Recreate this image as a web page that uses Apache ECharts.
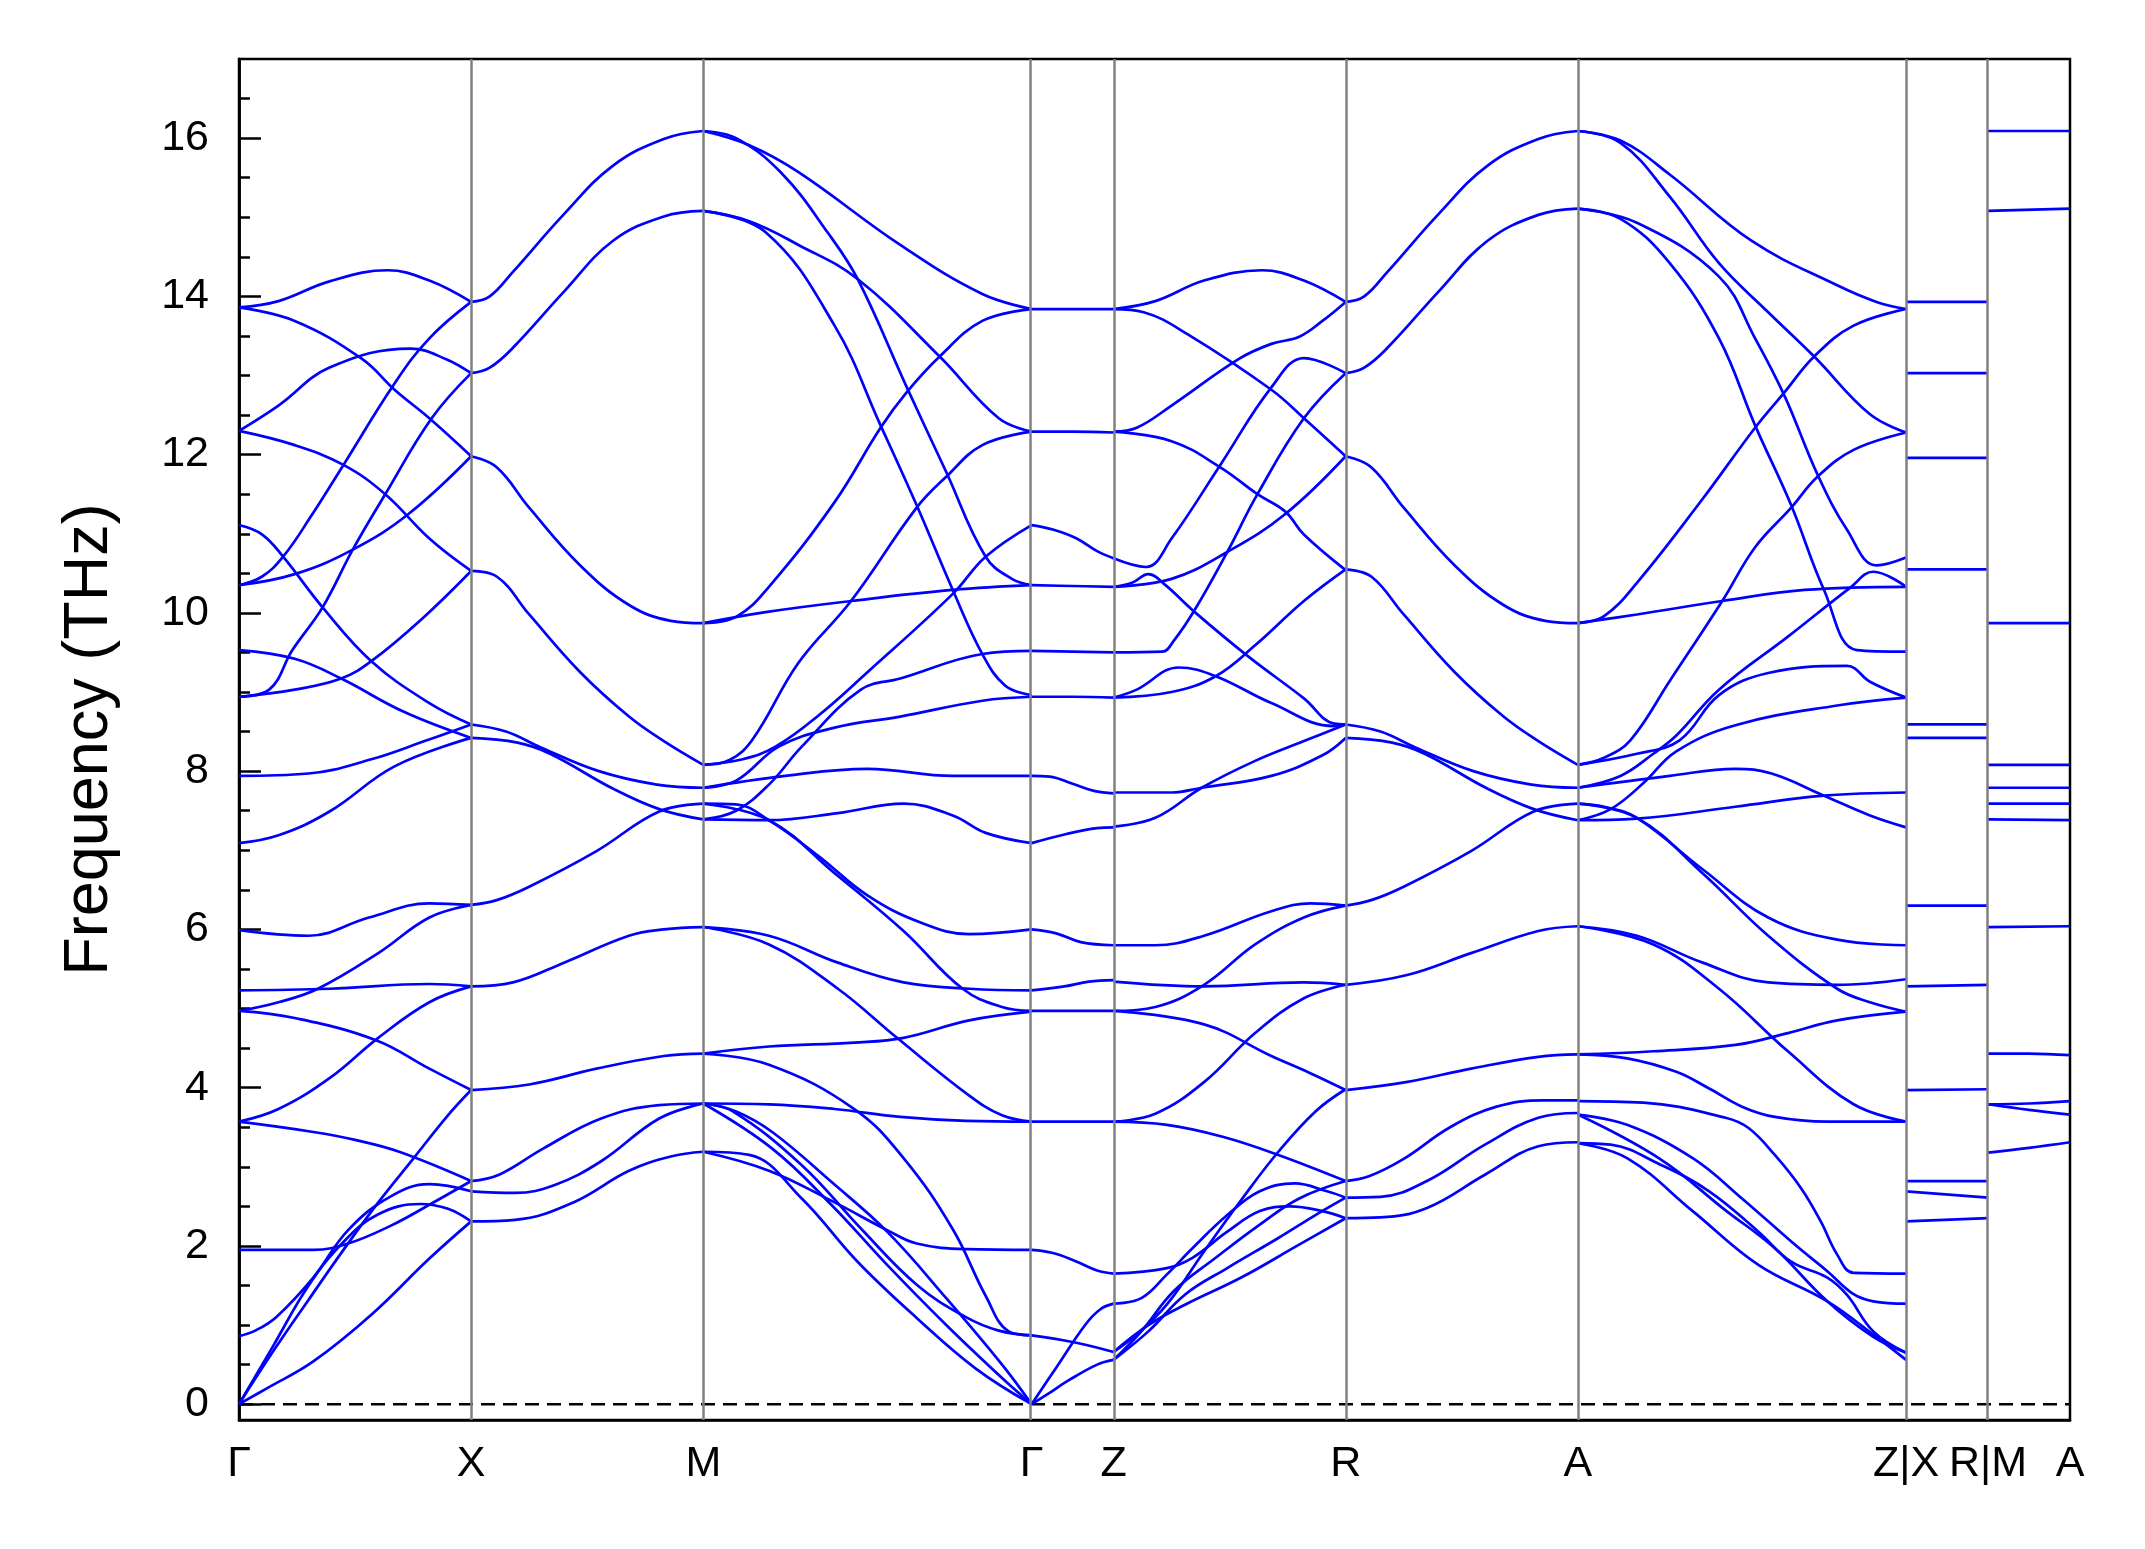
<!DOCTYPE html>
<html>
<head>
<meta charset="utf-8">
<script src="https://cdn.jsdelivr.net/npm/echarts@6/dist/echarts.min.js"></script>
<style>
  html, body { margin: 0; padding: 0; background: #fff; }
  #chart { width: 2145px; height: 1549px; }
</style>
</head>
<body>
<div id="chart"></div>
<script>
// high-symmetry path: segment lengths (reciprocal distance) and labels
const segLengths = [1, 1, 1.4142, 0.353, 1, 1, 1.4142, 0.353, 0.353];
const tickLabels = ['Γ', 'X', 'M', 'Γ', 'Z', 'R', 'A', 'Z|X', 'R|M', 'A'];
const yMajorTicks = [0, 2, 4, 6, 8, 10, 12, 14, 16];

// bands per segment: [fraction along segment, frequency THz]
const bandsGX = [
  [[0,13.86],[.17,13.94],[.39,14.19],[.64,14.33],[.82,14.2],[1,13.93]],
  [[0,13.86],[.24,13.69],[.53,13.21],[.67,12.82],[.82,12.46],[1,11.98]],
  [[0,12.3],[.17,12.62],[.39,13.1],[.74,13.34],[.89,13.21],[1,13.03]],
  [[0,12.3],[.24,12.12],[.45,11.87],[.63,11.5],[.82,10.94],[1,10.53]],
  [[0,11.11],[.1,10.99],[.19,10.71],[.36,10.07],[.57,9.39],[.82,8.86],[1,8.59]],
  [[0,10.35],[.1,10.46],[.19,10.71],[.31,11.22],[.45,11.87],[.67,12.9],[.82,13.47],[1,13.93]],
  [[0,10.35],[.24,10.49],[.49,10.8],[.73,11.25],[1,11.98]],
  [[0,9.53],[.24,9.42],[.44,9.17],[.71,8.75],[1,8.42]],
  [[0,8.94],[.24,9.03],[.44,9.17],[.57,9.39],[.79,9.93],[1,10.53]],
  [[0,8.94],[.13,9.03],[.23,9.53],[.36,10.07],[.49,10.8],[.63,11.5],[.83,12.46],[1,13.03]],
  [[0,7.94],[.3,7.97],[.57,8.15],[.8,8.38],[1,8.59]],
  [[0,7.09],[.17,7.19],[.39,7.49],[.67,8.06],[1,8.42]],
  [[0,5.99],[.3,5.92],[.56,6.15],[.82,6.33],[1,6.31]],
  [[0,5.23],[.39,5.25],[.82,5.31],[1,5.28]],
  [[0,4.97],[.17,5.08],[.34,5.25],[.6,5.7],[.82,6.15],[1,6.31]],
  [[0,4.97],[.24,4.88],[.59,4.6],[.82,4.24],[1,3.97]],
  [[0,3.57],[.17,3.73],[.39,4.12],[.6,4.63],[.82,5.08],[1,5.28]],
  [[0,3.57],[.32,3.44],[.5,3.34],[.69,3.19],[1,2.82]],
  [[0,1.95],[.32,1.95],[.47,2.03],[.65,2.25],[.82,2.52],[1,2.82]],
  [[0,0.86],[.07,0.93],[.16,1.1],[.32,1.6],[.47,2.2],[.65,2.62],[.82,2.78],[1,2.69]],
  [[0,0],[.15,0.68],[.3,1.32],[.45,1.95],[.6,2.55],[.75,3.1],[.9,3.65],[1,3.97]],
  [[0,0],[.15,0.75],[.3,1.5],[.45,2.05],[.6,2.4],[.78,2.53],[.9,2.47],[1,2.31]],
  [[0,0],[.12,0.2],[.32,0.54],[.57,1.13],[.82,1.84],[1,2.31]]
];

const bandsXM = [
  [[0,13.93],[.08,14.0],[.18,14.31],[.4,15.04],[.61,15.65],[.83,15.99],[1,16.09]],
  [[0,13.03],[.08,13.1],[.18,13.35],[.4,14.06],[.61,14.7],[.83,15.01],[1,15.08]],
  [[0,11.98],[.11,11.84],[.25,11.33],[.47,10.6],[.68,10.1],[.86,9.9],[1,9.87]],
  [[0,10.53],[.11,10.46],[.25,9.98],[.47,9.25],[.68,8.69],[.83,8.38],[1,8.08]],
  [[0,8.59],[.15,8.5],[.3,8.3],[.55,8.0],[.8,7.83],[1,7.79]],
  [[0,8.42],[.2,8.36],[.34,8.22],[.61,7.78],[.81,7.52],[1,7.39]],
  [[0,6.31],[.11,6.37],[.25,6.54],[.54,6.99],[.81,7.49],[1,7.59]],
  [[0,5.28],[.18,5.33],[.4,5.58],[.68,5.92],[.83,6.0],[1,6.03]],
  [[0,3.97],[.25,4.04],[.54,4.24],[.83,4.4],[1,4.43]],
  [[0,2.82],[.12,2.9],[.31,3.23],[.56,3.61],[.81,3.78],[1,3.8]],
  [[0,2.69],[.19,2.67],[.36,2.77],[.56,3.07],[.81,3.61],[1,3.8]],
  [[0,2.31],[.19,2.33],[.44,2.55],[.68,2.95],[.86,3.13],[1,3.19]]
];

const bandsMG = [
  [[0,16.09],[.14,15.91],[.29,15.57],[.6,14.65],[.85,14.03],[1,13.84]],
  [[0,16.09],[.1,16.0],[.24,15.55],[.38,14.8],[.47,14.22],[.62,12.85],[.74,11.78],[.86,10.71],[.94,10.43],[1,10.35]],
  [[0,15.08],[.14,14.95],[.29,14.65],[.47,14.22],[.72,13.24],[.9,12.46],[1,12.29]],
  [[0,15.08],[.19,14.81],[.4,13.63],[.54,12.37],[.65,11.36],[.76,10.29],[.85,9.48],[.92,9.08],[1,8.96]],
  [[0,9.87],[.1,9.95],[.2,10.33],[.4,11.4],[.54,12.34],[.62,12.79],[.72,13.24],[.85,13.69],[1,13.84]],
  [[0,9.87],[.19,10.01],[.45,10.15],[.76,10.29],[1,10.35]],
  [[0,8.08],[.08,8.14],[.15,8.4],[.29,9.37],[.45,10.15],[.65,11.33],[.74,11.72],[.85,12.12],[1,12.29]],
  [[0,8.08],[.12,8.15],[.22,8.31],[.35,8.7],[.5,9.25],[.76,10.24],[.86,10.71],[1,11.11]],
  [[0,7.39],[.1,7.5],[.2,7.83],[.3,8.31],[.48,9.03],[.6,9.17],[.85,9.48],[1,9.52]],
  [[0,7.79],[.1,7.88],[.23,8.31],[.4,8.55],[.6,8.69],[.85,8.89],[1,8.94]],
  [[0,7.79],[.25,7.94],[.5,8.03],[.76,7.94],[1,7.94]],
  [[0,7.39],[.2,7.38],[.41,7.47],[.61,7.59],[.76,7.44],[.86,7.22],[1,7.09]],
  [[0,7.59],[.1,7.58],[.2,7.38],[.35,6.93],[.5,6.43],[.66,6.09],[.81,5.94],[1,6.0]],
  [[0,7.59],[.2,7.38],[.4,6.71],[.61,5.98],[.79,5.25],[.91,5.02],[1,4.97]],
  [[0,6.03],[.2,5.92],[.41,5.58],[.61,5.33],[.81,5.25],[1,5.23]],
  [[0,6.03],[.2,5.81],[.41,5.25],[.59,4.63],[.81,3.9],[.91,3.65],[1,3.57]],
  [[0,4.43],[.2,4.52],[.46,4.57],[.61,4.63],[.81,4.85],[1,4.96]],
  [[0,4.43],[.2,4.29],[.46,3.73],[.61,3.11],[.76,2.21],[.86,1.37],[.93,0.92],[1,0.87]],
  [[0,3.8],[.2,3.79],[.4,3.73],[.6,3.63],[.8,3.58],[1,3.57]],
  [[0,3.8],[.09,3.7],[.3,3.02],[.48,2.22],[.65,1.51],[.8,1.1],[.9,0.93],[1,0.87]],
  [[0,3.8],[.21,3.23],[.39,2.52],[.56,1.76],[.74,1.0],[.91,0.33],[1,0]],
  [[0,3.8],[.1,3.7],[.21,3.44],[.39,2.81],[.56,2.18],[.74,1.34],[.91,0.5],[1,0]],
  [[0,3.19],[.14,3.15],[.3,2.6],[.47,1.8],[.65,1.09],[.83,0.45],[1,0]],
  [[0,3.19],[.2,2.95],[.4,2.55],[.56,2.2],[.65,2.03],[.8,1.96],[1,1.95]]
];

const bandsGZ = [
  [[0,13.84],[.5,13.84],[1,13.84]],
  [[0,12.29],[.5,12.29],[1,12.28]],
  [[0,11.11],[.27,11.05],[.55,10.94],[.8,10.78],[1,10.69]],
  [[0,10.35],[.5,10.34],[1,10.33]],
  [[0,9.52],[.5,9.51],[1,9.5]],
  [[0,8.94],[.5,8.94],[1,8.93]],
  [[0,7.94],[.22,7.93],[.5,7.84],[.76,7.75],[1,7.72]],
  [[0,7.09],[.4,7.2],[.8,7.28],[1,7.29]],
  [[0,6.0],[.3,5.95],[.6,5.84],[1,5.8]],
  [[0,5.23],[.4,5.28],[.7,5.34],[1,5.36]],
  [[0,4.97],[.5,4.97],[1,4.97]],
  [[0,3.57],[.5,3.57],[1,3.57]],
  [[0,1.95],[.26,1.91],[.53,1.81],[.8,1.69],[1,1.65]],
  [[0,0.87],[.53,0.78],[1,0.66]],
  [[0,0],[.3,0.46],[.66,1.01],[.84,1.2],[1,1.27]],
  [[0,0],[.2,0.13],[.45,0.3],[.8,0.5],[1,0.56]]
];

const bandsZR = [
  [[0,13.84],[.18,13.94],[.39,14.2],[.64,14.33],[.82,14.2],[1,13.93]],
  [[0,13.84],[.13,13.8],[.32,13.52],[.68,12.82],[.82,12.46],[1,11.98]],
  [[0,12.29],[.1,12.34],[.25,12.62],[.54,13.21],[.68,13.4],[.8,13.49],[.9,13.69],[1,13.93]],
  [[0,12.29],[.25,12.17],[.46,11.84],[.62,11.5],[.74,11.28],[.82,10.99],[1,10.54]],
  [[0,10.33],[.25,10.43],[.49,10.77],[.74,11.25],[1,11.98]],
  [[0,10.69],[.14,10.58],[.25,10.94],[.46,11.87],[.68,12.85],[.82,13.22],[1,13.03]],
  [[0,10.33],[.08,10.38],[.15,10.49],[.22,10.36],[.35,10.01],[.58,9.45],[.82,8.92],[.95,8.6],[1,8.59]],
  [[0,9.5],[.21,9.51],[.26,9.65],[.35,10.04],[.49,10.77],[.62,11.5],[.82,12.46],[1,13.03]],
  [[0,8.93],[.1,9.03],[.28,9.31],[.44,9.2],[.68,8.86],[.95,8.57],[1,8.59]],
  [[0,8.93],[.25,9.0],[.44,9.2],[.61,9.59],[.82,10.15],[1,10.55]],
  [[0,7.3],[.18,7.41],[.38,7.79],[.61,8.13],[.82,8.38],[1,8.59]],
  [[0,7.73],[.25,7.73],[.38,7.79],[.68,7.94],[.9,8.2],[1,8.42]],
  [[0,5.8],[.18,5.8],[.39,5.92],[.68,6.23],[.85,6.33],[1,6.3]],
  [[0,5.34],[.39,5.28],[.82,5.33],[1,5.3]],
  [[0,4.97],[.18,5.02],[.39,5.3],[.61,5.81],[.82,6.15],[1,6.3]],
  [[0,4.97],[.39,4.8],[.68,4.4],[.85,4.18],[1,3.97]],
  [[0,3.57],[.18,3.67],[.39,4.07],[.61,4.69],[.82,5.13],[1,5.3]],
  [[0,3.57],[.23,3.53],[.47,3.38],[.71,3.15],[1,2.82]],
  [[0,0.66],[.1,0.88],[.23,1.26],[.39,1.93],[.55,2.58],[.71,3.19],[.87,3.7],[1,3.98]],
  [[0,1.27],[.12,1.34],[.23,1.64],[.34,1.97],[.49,2.39],[.63,2.69],[.78,2.79],[.92,2.69],[1,2.61]],
  [[0,1.65],[.23,1.72],[.34,1.85],[.49,2.18],[.63,2.44],[.76,2.5],[.9,2.44],[1,2.35]],
  [[0,0.56],[.12,0.92],[.26,1.43],[.44,1.85],[.63,2.27],[.8,2.6],[1,2.82]],
  [[0,0.56],[.15,0.92],[.31,1.39],[.49,1.72],[.71,2.1],[.87,2.39],[1,2.61]],
  [[0,0.66],[.15,1.0],[.31,1.26],[.55,1.6],[.79,2.0],[1,2.35]]
];

const bandsRA = [
  [[0,13.93],[.08,14.0],[.18,14.31],[.4,15.04],[.61,15.65],[.83,15.99],[1,16.09]],
  [[0,13.03],[.08,13.1],[.18,13.35],[.4,14.06],[.61,14.7],[.83,15.03],[1,15.11]],
  [[0,11.98],[.11,11.84],[.25,11.33],[.47,10.6],[.68,10.1],[.86,9.9],[1,9.87]],
  [[0,10.55],[.11,10.46],[.25,9.98],[.47,9.25],[.68,8.69],[.83,8.38],[1,8.08]],
  [[0,8.59],[.15,8.5],[.3,8.3],[.55,8.0],[.8,7.83],[1,7.79]],
  [[0,8.42],[.2,8.36],[.34,8.22],[.61,7.78],[.81,7.52],[1,7.38]],
  [[0,6.3],[.11,6.37],[.25,6.54],[.54,6.99],[.81,7.49],[1,7.59]],
  [[0,5.3],[.26,5.42],[.54,5.7],[.83,5.98],[1,6.04]],
  [[0,3.97],[.26,4.07],[.54,4.24],[.83,4.39],[1,4.42]],
  [[0,2.82],[.1,2.88],[.25,3.1],[.45,3.5],[.65,3.76],[.85,3.84],[1,3.84]],
  [[0,2.61],[.15,2.62],[.35,2.82],[.6,3.28],[.83,3.62],[1,3.68]],
  [[0,2.35],[.15,2.36],[.35,2.48],[.6,2.9],[.83,3.26],[1,3.31]]
];

const bandsAZ = [
  [[0,16.09],[.13,15.97],[.28,15.54],[.53,14.7],[.79,14.14],[.91,13.93],[1,13.84]],
  [[0,16.09],[.13,15.94],[.28,15.26],[.43,14.42],[.58,13.8],[.72,13.24],[.89,12.51],[1,12.28]],
  [[0,15.11],[.18,14.93],[.43,14.25],[.54,13.47],[.63,12.74],[.73,11.75],[.82,11.05],[.91,10.6],[1,10.7]],
  [[0,15.11],[.13,14.98],[.28,14.42],[.43,13.47],[.54,12.37],[.65,11.36],[.75,10.29],[.85,9.53],[1,9.51]],
  [[0,9.87],[.08,9.96],[.18,10.38],[.38,11.44],[.54,12.34],[.63,12.79],[.72,13.24],[.84,13.63],[1,13.84]],
  [[0,9.87],[.18,9.98],[.44,10.15],[.69,10.29],[1,10.33]],
  [[0,8.08],[.08,8.17],[.16,8.39],[.28,9.14],[.44,10.15],[.54,10.83],[.65,11.33],[.73,11.72],[.84,12.06],[1,12.28]],
  [[0,7.79],[.13,7.94],[.23,8.22],[.3,8.45],[.43,9.03],[.64,9.7],[.83,10.32],[.9,10.52],[1,10.33]],
  [[0,8.08],[.18,8.22],[.31,8.39],[.43,8.96],[.58,9.24],[.82,9.33],[.89,9.13],[1,8.93]],
  [[0,7.38],[.1,7.52],[.2,7.85],[.3,8.25],[.48,8.58],[.79,8.83],[1,8.93]],
  [[0,7.79],[.28,7.94],[.48,8.03],[.59,7.97],[.75,7.69],[.89,7.44],[1,7.29]],
  [[0,7.38],[.18,7.4],[.48,7.55],[.75,7.69],[1,7.73]],
  [[0,7.59],[.08,7.55],[.18,7.41],[.38,6.76],[.58,6.15],[.79,5.87],[1,5.8]],
  [[0,7.59],[.18,7.41],[.38,6.71],[.58,5.92],[.79,5.25],[.89,5.08],[1,4.96]],
  [[0,6.04],[.18,5.92],[.38,5.58],[.58,5.33],[.79,5.3],[1,5.37]],
  [[0,6.04],[.23,5.81],[.43,5.25],[.64,4.46],[.84,3.79],[1,3.57]],
  [[0,4.42],[.23,4.46],[.48,4.54],[.64,4.69],[.79,4.85],[1,4.96]],
  [[0,4.42],[.15,4.37],[.3,4.2],[.4,3.99],[.5,3.76],[.6,3.63],[.76,3.57],[1,3.57]],
  [[0,3.83],[.2,3.81],[.45,3.62],[.52,3.49],[.6,3.15],[.68,2.73],[.74,2.31],[.79,1.89],[.84,1.66],[1,1.65]],
  [[0,3.66],[.15,3.53],[.35,3.11],[.5,2.6],[.66,2.02],[.76,1.68],[.84,1.39],[.9,1.3],[1,1.27]],
  [[0,3.66],[.25,3.1],[.45,2.45],[.6,1.97],[.76,1.3],[.9,0.85],[1,0.65]],
  [[0,3.3],[.1,3.28],[.25,3.03],[.4,2.69],[.55,2.18],[.65,1.8],[.76,1.6],[.82,1.38],[.9,0.92],[1,0.65]],
  [[0,3.3],[.15,3.11],[.35,2.44],[.55,1.76],[.76,1.3],[.9,0.88],[1,0.56]]
];

const bandsXR = [
  [[0,13.93],[1,13.93]], [[0,13.03],[1,13.03]], [[0,11.96],[1,11.96]],
  [[0,10.55],[1,10.55]], [[0,8.59],[1,8.59]], [[0,8.42],[1,8.42]],
  [[0,6.3],[1,6.3]], [[0,5.28],[1,5.3]], [[0,3.97],[1,3.98]],
  [[0,2.82],[1,2.82]], [[0,2.69],[1,2.61]], [[0,2.31],[1,2.35]]
];

const bandsMA = [
  [[0,16.09],[1,16.09]], [[0,15.08],[1,15.11]], [[0,9.87],[1,9.87]],
  [[0,8.08],[1,8.08]], [[0,7.79],[1,7.79]], [[0,7.59],[1,7.59]],
  [[0,7.39],[1,7.38]], [[0,6.03],[1,6.04]], [[0,4.43],[.5,4.43],[1,4.41]],
  [[0,3.79],[.5,3.8],[1,3.83]], [[0,3.79],[.5,3.72],[1,3.66]], [[0,3.18],[.5,3.24],[1,3.31]]
];

const allSegments = [bandsGX, bandsXM, bandsMG, bandsGZ, bandsZR, bandsRA, bandsAZ, bandsXR, bandsMA];

// cumulative positions of the high-symmetry points
const tickPos = [0];
segLengths.forEach(l => tickPos.push(+(tickPos[tickPos.length - 1] + l).toFixed(4)));
const xMax = tickPos[tickPos.length - 1];

const yMinorTicks = [];
for (let v = 0; v <= 16.5; v += 0.5) yMinorTicks.push(v);

const FONT = "'Liberation Sans', Arial, Helvetica, sans-serif";

const series = [];

// zero-frequency reference line (dashed)
series.push({
  type: 'line',
  data: [[0, 0], [xMax, 0]],
  showSymbol: false,
  silent: true,
  z: 2,
  lineStyle: {color: '#000000', width: 2.5, type: [14, 8]}
});

allSegments.forEach((bands, si) => {
  const x0 = tickPos[si], len = segLengths[si];
  bands.forEach(band => {
    series.push({
      type: 'line',
      data: band.map(([q, v]) => [x0 + q * len, v]),
      smooth: 0.4,
      showSymbol: false,
      silent: true,
      z: 3,
      lineStyle: {color: '#0000ff', width: 2.7}
    });
  });
});

// vertical separators at high-symmetry points
series.push({
  type: 'line',
  data: [],
  silent: true,
  z: 1,
  markLine: {
    silent: true,
    symbol: ['none', 'none'],
    label: {show: false},
    animation: false,
    data: tickPos.slice(1, -1).map(x => ({
      xAxis: x,
      lineStyle: {color: '#808080', width: 2.5, type: 'solid'}
    }))
  }
});

const chart = echarts.init(document.getElementById('chart'));
chart.setOption({
  animation: false,
  backgroundColor: '#ffffff',
  grid: {
    left: 239, top: 59, width: 1831, height: 1361,
    show: true, borderColor: '#000000', borderWidth: 2.5, backgroundColor: 'transparent'
  },
  xAxis: {
    type: 'value',
    min: 0,
    max: xMax,
    axisLine: {show: true, onZero: false, lineStyle: {color: '#000000', width: 2.5}},
    axisTick: {show: false},
    splitLine: {show: false},
    axisLabel: {
      customValues: tickPos,
      hideOverlap: false,
      showMinLabel: true,
      showMaxLabel: true,
      margin: 23,
      color: '#000000',
      fontSize: 43,
      fontFamily: FONT,
      formatter: function (value) {
        let best = 0;
        tickPos.forEach((p, i) => { if (Math.abs(p - value) < Math.abs(tickPos[best] - value)) best = i; });
        return tickLabels[best];
      }
    }
  },
  yAxis: [
    {
      type: 'value',
      min: -0.2,
      max: 17,
      position: 'left',
      name: 'Frequency (THz)',
      nameLocation: 'middle',
      nameGap: 118,
      nameTextStyle: {fontSize: 63, color: '#000000', fontFamily: FONT},
      axisLine: {show: true, onZero: false, lineStyle: {color: '#000000', width: 2.5}},
      axisTick: {show: true, inside: true, length: 22, customValues: yMajorTicks,
                 lineStyle: {color: '#000000', width: 2.5}},
      axisLabel: {customValues: yMajorTicks, margin: 30, color: '#000000',
                  fontSize: 43, fontFamily: FONT},
      splitLine: {show: false}
    },
    {
      type: 'value',
      min: -0.2,
      max: 17,
      position: 'left',
      offset: 0,
      axisLine: {show: true, onZero: false, lineStyle: {color: '#000000', width: 2.5}},
      axisTick: {show: true, inside: true, length: 11, customValues: yMinorTicks,
                 lineStyle: {color: '#000000', width: 2.5}},
      axisLabel: {show: false},
      splitLine: {show: false}
    }
  ],
  series: series
});
</script>
</body>
</html>
